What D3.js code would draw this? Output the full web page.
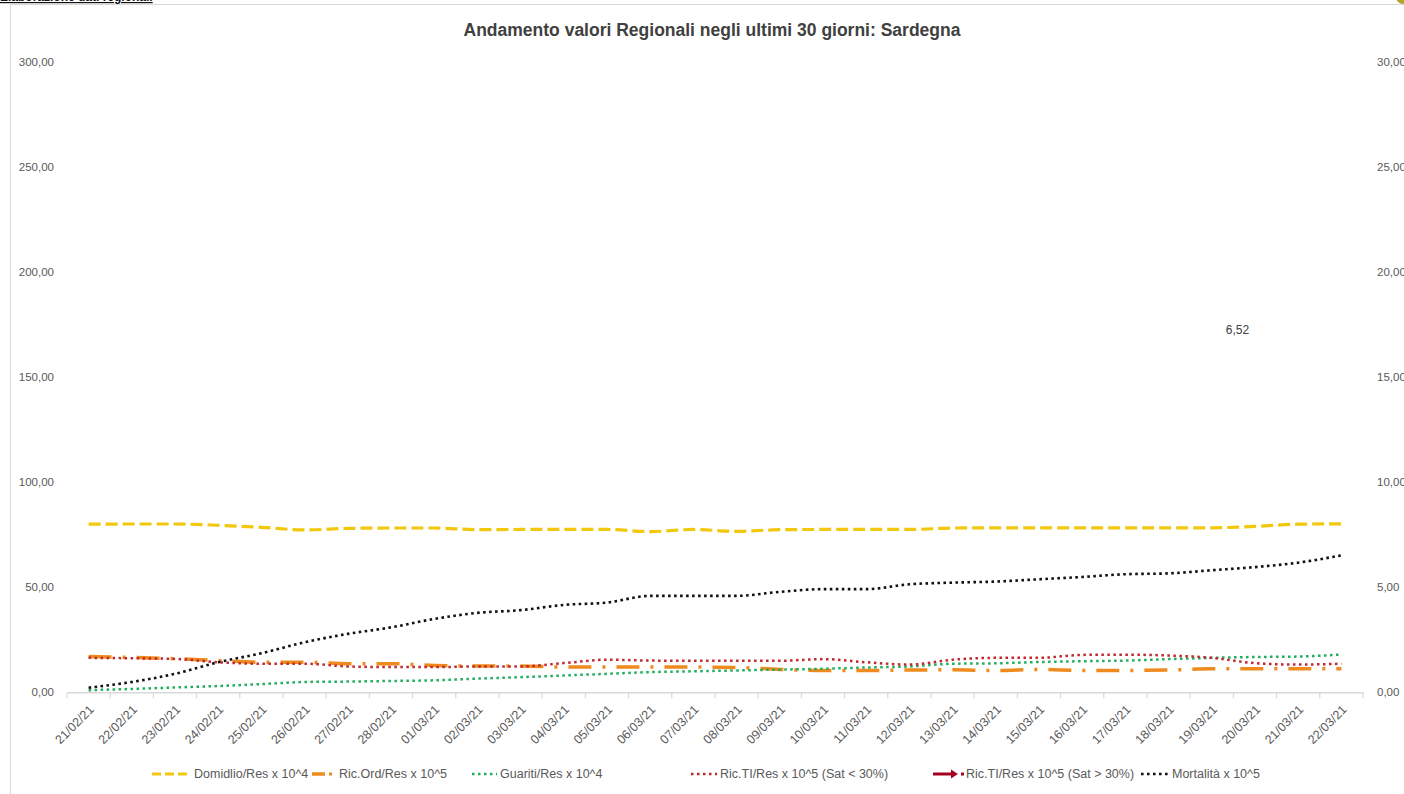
<!DOCTYPE html>
<html><head><meta charset="utf-8">
<script src="https://cdn.jsdelivr.net/npm/d3@7"></script>
<style>
body{margin:0;background:#fff;}
svg{display:block;font-family:"Liberation Sans",Arial,sans-serif;}
</style>
</head><body>
<svg id="c" width="1404" height="794"></svg>
<script>
const dates = ["21/02/21","22/02/21","23/02/21","24/02/21","25/02/21","26/02/21","27/02/21","28/02/21",
"01/03/21","02/03/21","03/03/21","04/03/21","05/03/21","06/03/21","07/03/21","08/03/21","09/03/21","10/03/21",
"11/03/21","12/03/21","13/03/21","14/03/21","15/03/21","16/03/21","17/03/21","18/03/21","19/03/21","20/03/21",
"21/03/21","22/03/21"];
const domicilio = [80.0,80.1,80.1,79.5,78.5,77.3,78.0,78.2,78.2,77.4,77.5,77.5,77.5,76.5,77.5,76.6,77.4,77.5,77.5,77.5,78.2,78.3,78.3,78.3,78.3,78.3,78.3,79.0,80.0,80.2];
const ricOrd = [17.0,16.6,16.0,15.1,14.3,14.3,13.6,13.6,12.8,12.5,12.5,12.0,12.0,12.0,12.0,11.8,10.9,10.4,10.4,10.6,10.7,10.4,10.9,10.4,10.4,10.6,11.2,11.2,11.2,11.2];
const guariti = [1.0,1.6,2.3,3.0,3.9,4.9,5.1,5.4,5.7,6.5,7.2,8.0,8.8,9.6,10.0,10.4,10.8,11.2,11.8,12.3,13.6,13.8,14.4,14.8,15.1,15.8,16.4,16.8,17.0,18.0];
const ricTI = [16.4,16.2,15.9,14.3,13.6,13.6,12.3,12.0,12.0,12.3,12.3,13.9,15.5,15.1,15.0,15.0,15.0,15.8,14.3,13.2,15.5,16.4,16.4,17.8,17.9,17.5,16.4,13.9,13.2,13.6];
const ricTI30 = [];
const mortalita = [0.22,0.49,0.88,1.43,1.86,2.38,2.78,3.09,3.49,3.78,3.91,4.16,4.27,4.59,4.59,4.59,4.78,4.91,4.91,5.14,5.22,5.27,5.38,5.49,5.62,5.66,5.81,5.96,6.17,6.52];
const leftTicks = [0,50,100,150,200,250,300];
const rightTicks = [0,5,10,15,20,25,30];
const seriesNames = ["Domidlio/Res x 10^4","Ric.Ord/Res x 10^5","Guariti/Res x 10^4","Ric.TI/Res x 10^5 (Sat < 30%)","Ric.TI/Res x 10^5 (Sat > 30%)","Mortalità x 10^5"];
const title = "Andamento valori Regionali negli ultimi 30 giorni: Sardegna";

const itFmt = d3.formatLocale({decimal:",",thousands:".",grouping:[3],currency:["€",""]}).format(".2f");
const svg = d3.select("#c");
const textCol = "#595959";

// frame
svg.append("rect").attr("x",10.5).attr("y",4.5).attr("width",1500).attr("height",1000)
  .attr("fill","#fff").attr("stroke","#d9d9d9").attr("stroke-width",1);
svg.append("text").attr("x",0).attr("y",1).attr("font-size",12).attr("font-weight","bold")
  .attr("fill","#111").attr("text-decoration","underline").text("Elaborazione dati regionali");
svg.append("circle").attr("cx",1403).attr("cy",-3).attr("r",7).attr("fill","#b3a52b");

svg.append("text").attr("x",712).attr("y",36).attr("text-anchor","middle")
  .attr("font-size",17.5).attr("font-weight","bold").attr("fill","#404040").text(title);

const x = d3.scaleBand().domain(dates).range([67,1363]).padding(0);
const yL = d3.scaleLinear().domain([0,300]).range([692.3,62]);
const yR = d3.scaleLinear().domain([0,30]).range([692.3,62]);
const cx = d => x(d) + x.bandwidth()/2;

// axes
const gL = svg.append("g").attr("transform","translate(67,0)")
  .call(d3.axisLeft(yL).tickValues(leftTicks).tickFormat(itFmt).tickSize(0).tickPadding(13));
gL.select(".domain").remove();
const gR = svg.append("g").attr("transform","translate(1363,0)")
  .call(d3.axisRight(yR).tickValues(rightTicks).tickFormat(itFmt).tickSize(0).tickPadding(14));
gR.select(".domain").remove();
[gL,gR].forEach(g=>g.selectAll("text").attr("font-size",11.5).attr("fill",textCol).attr("font-family","Liberation Sans, Arial, sans-serif"));

const gX = svg.append("g").attr("transform","translate(0,692.3)")
  .call(d3.axisBottom(x).tickSize(0).tickPadding(0));
gX.select(".domain").attr("stroke","#d9d9d9").attr("stroke-width",1.5);
gX.selectAll(".tick text").attr("font-size",12.5).attr("fill",textCol)
  .attr("font-family","Liberation Sans, Arial, sans-serif")
  .attr("text-anchor","end").attr("dy","0.35em")
  .attr("transform","translate(3,15) rotate(-45)");
// category boundary ticks
const bounds = dates.map(d=>x(d)).concat([x.range()[1]]);
gX.selectAll("line.bt").data(bounds).join("line").attr("class","bt")
  .attr("x1",d=>d).attr("x2",d=>d).attr("y1",0).attr("y2",6)
  .attr("stroke","#d9d9d9").attr("stroke-width",1.2);

// lines
const mk = (arr, ys) => d3.line().x((v,i)=>cx(dates[i])).y(v=>ys(v)).curve(d3.curveMonotoneX)(arr);
const styles = [
  {data:domicilio, y:yL, color:"#F2C80F", w:3.2, dash:"12,5", cap:"butt"},
  {data:ricOrd, y:yL, color:"#EE8A1E", w:3.5, dash:"23,11,3,11", cap:"butt"},
  {data:guariti, y:yL, color:"#1DAE5C", w:2.5, dash:"2.5,3.5", cap:"butt"},
  {data:ricTI, y:yL, color:"#C1272D", w:2.5, dash:"2.5,3.5", cap:"butt"},
  {data:ricTI30, y:yL, color:"#A50021", w:3, dash:null, cap:"butt"},
  {data:mortalita, y:yR, color:"#111111", w:2.6, dash:"2.6,3.4", cap:"butt"}
];
styles.forEach(s=>{
  if(!s.data.length) return;
  svg.append("path").attr("d",mk(s.data,s.y)).attr("fill","none")
    .attr("stroke",s.color).attr("stroke-width",s.w).attr("stroke-dasharray",s.dash)
    .attr("stroke-linecap",s.cap);
});

// data label on last mortality point
const li = mortalita.length-1;
svg.append("text").attr("x",cx(dates[li])-104).attr("y",yR(mortalita[li])-225+4)
  .attr("text-anchor","middle").attr("font-size",12).attr("fill","#404040").text(itFmt(mortalita[li]));

// legend
const legY = 774;
const legPos = [[152,190,194],[312,331,339],[472,497,500],[691,717,720],[933,958,962],[1141,1168,1172]];
const lg = svg.append("g");
legPos.forEach((p,i)=>{
  const s = styles[i];
  if(i===1){
    lg.append("line").attr("x1",p[0]).attr("x2",p[1]-6).attr("y1",legY).attr("y2",legY)
      .attr("stroke",s.color).attr("stroke-width",3.5);
    lg.append("rect").attr("x",p[1]-2).attr("y",legY-1.5).attr("width",3).attr("height",3).attr("fill",s.color);
  } else if(i===4){
    lg.append("line").attr("x1",p[0]).attr("x2",p[1]-6).attr("y1",legY).attr("y2",legY)
      .attr("stroke",s.color).attr("stroke-width",3);
    lg.append("path").attr("d",`M${p[1]-7},${legY-4.5}L${p[1]},${legY}L${p[1]-7},${legY+4.5}Z`).attr("fill",s.color);
    lg.append("rect").attr("x",p[2]-1).attr("y",legY-1.5).attr("width",3).attr("height",3).attr("fill",s.color);
  } else {
    lg.append("line").attr("x1",p[0]).attr("x2",p[1]).attr("y1",legY).attr("y2",legY)
      .attr("stroke",s.color).attr("stroke-width",s.w).attr("stroke-dasharray",i===0?"9,4":s.dash);
  }
  lg.append("text").attr("x",p[2]+(i===4?4:0)).attr("y",legY).attr("dy","0.35em")
    .attr("font-size",12.5).attr("fill",textCol).text(seriesNames[i]);
});
</script>
</body></html>
